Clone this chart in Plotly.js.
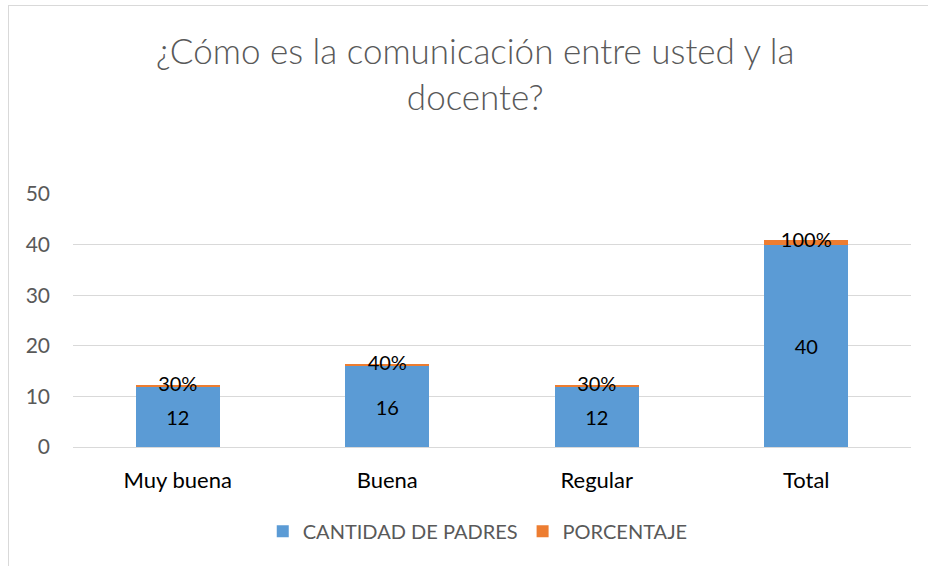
<!DOCTYPE html>
<html>
<head>
<meta charset="utf-8">
<script src="https://cdn.plot.ly/plotly-3.0.1.min.js"></script>
<style>
  html, body { margin: 0; padding: 0; overflow: hidden; background: white; }
  #chart {
    position: absolute; left: 8px; top: 5px;
    width: 940px; height: 580px;
    border: 1px solid #d9d9d9;
  }
</style>
</head>
<body>
<div id="chart"></div>
<script>
/* data */
const categorias = ['Muy buena', 'Buena', 'Regular', 'Total'];
const cantidad   = [12, 16, 12, 40];
const porcentaje = [0.3, 0.4, 0.3, 1.0];
const etiquetasPct = ['30%', '40%', '30%', '100%'];

const FONT = 'Lato, "Open Sans", sans-serif';
const labelFont = { family: FONT, size: 20, color: '#000000' };

const traces = [
  {
    type: 'bar', name: 'CANTIDAD DE PADRES',
    x: categorias, y: cantidad,
    marker: { color: '#5b9bd5' },
    text: cantidad.map(String), textposition: 'inside',
    insidetextanchor: 'middle', textangle: 0,
    textfont: labelFont, hoverinfo: 'x+y',
  },
  {
    type: 'bar', name: 'PORCENTAJE',
    x: categorias, y: porcentaje,
    marker: { color: '#ed7d31' },
    textposition: 'none', hoverinfo: 'x+y',
  },
  /* percentage labels sit on the thin orange segment */
  {
    type: 'scatter', mode: 'text', showlegend: false, hoverinfo: 'skip',
    x: categorias,
    y: cantidad.map((c, i) => c + porcentaje[i] / 2),
    text: etiquetasPct, textposition: 'middle center',
    textfont: labelFont, cliponaxis: false,
  },
];

Plotly.newPlot('chart', traces, {
  paper_bgcolor: 'white', plot_bgcolor: 'white',
  font: { family: FONT, size: 18, color: '#595959' },
  margin: { l: 64, r: 38, t: 188, b: 139 },
  barmode: 'stack', bargap: 0.6,
  title: {
    text: '¿Cómo es la comunicación entre usted y la<br>docente?',
    font: { family: FONT, size: 35, color: '#595959', weight: 300 },
    x: 0.496, xanchor: 'center', xref: 'container',
    y: 0.9, yref: 'container', yanchor: 'middle',
  },
  xaxis: {
    showgrid: false, zeroline: false, showline: false,
    ticks: '', tickfont: { family: FONT, size: 22, color: '#000000' },
    ticklabelstandoff: 18,
  },
  yaxis: {
    range: [0, 50], dtick: 10, gridcolor: '#d9d9d9', gridwidth: 1,
    zeroline: true, zerolinecolor: '#d9d9d9', zerolinewidth: 1,
    showline: false, ticks: '',
    tickfont: { family: FONT, size: 21, color: '#595959' },
    ticklabelstandoff: 22,
  },
  legend: {
    orientation: 'h', x: 0.483, xanchor: 'center',
    y: -0.333, yanchor: 'middle',
    font: { family: FONT, size: 20, color: '#595959' },
    itemwidth: 30, traceorder: 'normal',
  },
  showlegend: true,
}, { displayModeBar: false });
</script>
</body>
</html>
